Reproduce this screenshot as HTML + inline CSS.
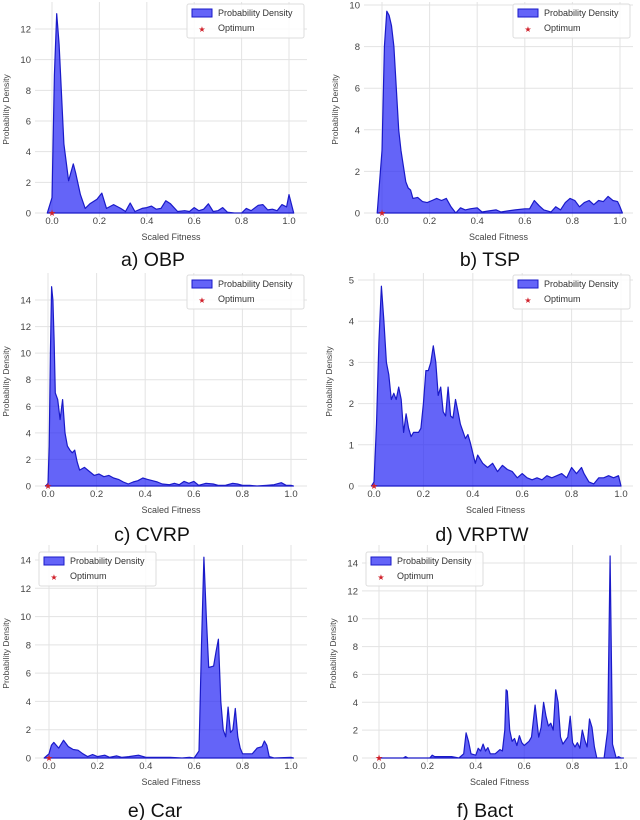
<!DOCTYPE html>
<html><head><meta charset="utf-8">
<style>
html,body{margin:0;padding:0;background:#fff;}
svg{display:block;font-family:"Liberation Sans",sans-serif;}
</style></head>
<body>
<svg id="fig" width="640" height="820" viewBox="0 0 640 820" xmlns="http://www.w3.org/2000/svg"></svg>
<script>
const xTickLabels = ["0.0","0.2","0.4","0.6","0.8","1.0"];
const xTickValues = [0,0.2,0.4,0.6,0.8,1.0];

const obpX = [-0.02,0,0.01,0.02,0.03,0.05,0.07,0.09,0.1,0.12,0.14,0.16,0.19,0.21,0.23,0.26,0.29,0.31,0.33,0.35,0.38,0.4,0.42,0.44,0.46,0.48,0.5,0.53,0.56,0.58,0.6,0.62,0.64,0.66,0.68,0.7,0.72,0.74,0.77,0.8,0.82,0.84,0.87,0.89,0.91,0.93,0.95,0.97,0.99,1.0,1.02];
const obpY = [0,1,9,13,11,4.5,2.1,3.2,2.6,1.2,0.3,0.6,0.9,1.3,0.3,0.55,0.3,0.1,0.65,0.1,0.3,0.35,0.45,0.25,0.3,0.8,0.6,0.1,0.15,0.1,0.35,0.15,0.25,0.6,0.1,0.15,0.35,0.05,0,0,0.3,0.15,0.5,0.55,0.2,0.25,0.15,0.55,0.4,1.2,0];

const tspX = [-0.02,0,0.01,0.02,0.03,0.04,0.05,0.06,0.07,0.08,0.1,0.11,0.12,0.13,0.15,0.17,0.19,0.21,0.23,0.25,0.27,0.29,0.31,0.33,0.35,0.37,0.4,0.42,0.45,0.48,0.5,0.53,0.56,0.6,0.62,0.64,0.66,0.68,0.71,0.73,0.75,0.77,0.79,0.81,0.83,0.85,0.87,0.89,0.91,0.93,0.95,0.97,0.99,1.0,1.01];
const tspY = [0,3,8,9.7,9.5,9,8,6,4,3,1.5,1.2,1.1,0.7,0.75,0.55,0.5,0.6,0.7,0.6,0.7,0.3,0,0.25,0.15,0.2,0.25,0.05,0.1,0.15,0.05,0.1,0.15,0.2,0.2,0.6,0.35,0.15,0.05,0.3,0.15,0.5,0.7,0.6,0.3,0.5,0.6,0.4,0.6,0.55,0.8,0.6,0.55,0.3,0];

const cvrpX = [-0.01,0,0.005,0.01,0.015,0.02,0.025,0.03,0.04,0.05,0.06,0.07,0.08,0.09,0.1,0.11,0.12,0.13,0.15,0.17,0.19,0.21,0.23,0.25,0.27,0.29,0.31,0.33,0.35,0.37,0.39,0.41,0.43,0.45,0.47,0.5,0.52,0.54,0.56,0.58,0.6,0.62,0.65,0.68,0.7,0.73,0.76,0.78,0.8,0.83,0.86,0.9,0.93,0.96,0.98,1.0,1.01];
const cvrpY = [0,0.2,3,10,15,14,11,7,6.5,5,6.5,4,3,2.7,2.5,2.7,1.8,1.2,1.4,1.1,0.8,0.9,0.7,0.8,0.6,0.5,0.3,0.15,0.3,0.4,0.6,0.5,0.4,0.3,0.15,0.1,0.2,0.1,0.35,0.2,0.35,0.05,0.2,0.15,0.05,0.05,0.2,0.15,0.05,0.05,0,0.05,0.1,0.25,0.05,0.05,0];

const vrptwX = [-0.01,0,0.01,0.02,0.03,0.04,0.05,0.06,0.07,0.08,0.09,0.1,0.11,0.12,0.13,0.14,0.15,0.16,0.18,0.19,0.2,0.21,0.22,0.23,0.24,0.25,0.26,0.27,0.28,0.29,0.3,0.31,0.32,0.33,0.34,0.35,0.37,0.38,0.39,0.4,0.41,0.42,0.44,0.46,0.48,0.5,0.52,0.54,0.56,0.58,0.6,0.62,0.64,0.66,0.68,0.7,0.72,0.74,0.76,0.78,0.8,0.82,0.84,0.85,0.87,0.89,0.91,0.93,0.95,0.97,0.99,1.0];
const vrptwY = [0,0.1,1.5,3.5,4.85,4,3,2.7,2.1,2.25,2.1,2.4,2.1,1.3,1.75,1.4,1.2,1.3,1.3,1.4,2.0,2.8,2.8,3.0,3.4,3.0,2.2,2.4,1.8,1.7,2.4,1.7,1.65,2.1,1.8,1.5,1.15,1.25,1.05,0.8,0.55,0.75,0.55,0.45,0.55,0.35,0.5,0.4,0.35,0.2,0.3,0.2,0.15,0.2,0.15,0.25,0.2,0.25,0.3,0.2,0.45,0.3,0.45,0.3,0.1,0.05,0.2,0.2,0.25,0.2,0.25,0];

const carX = [-0.02,0,0.01,0.02,0.04,0.06,0.08,0.1,0.12,0.14,0.16,0.18,0.2,0.23,0.25,0.28,0.3,0.33,0.37,0.4,0.45,0.5,0.55,0.58,0.6,0.62,0.63,0.64,0.65,0.66,0.68,0.69,0.7,0.71,0.72,0.73,0.74,0.75,0.76,0.77,0.78,0.79,0.8,0.82,0.84,0.86,0.88,0.89,0.9,0.91,0.93,1.0,1.01];
const carY = [0,0.3,0.9,1.1,0.7,1.25,0.8,0.6,0.55,0.3,0.1,0.25,0.1,0.2,0.05,0.15,0.05,0.1,0.2,0.05,0.05,0.05,0,0.05,0,0.5,8,14.2,10,6.4,6.5,7.5,8.4,4,2,1.5,3.6,1.8,2,3.5,1.5,0.7,0.3,0.3,0.3,0.7,0.8,1.2,0.9,0.1,0,0.05,0];

const bactX = [0,0.1,0.11,0.12,0.21,0.22,0.23,0.25,0.3,0.33,0.35,0.36,0.37,0.38,0.4,0.41,0.42,0.43,0.44,0.45,0.46,0.47,0.48,0.5,0.51,0.52,0.525,0.53,0.54,0.55,0.56,0.57,0.58,0.59,0.6,0.62,0.63,0.645,0.66,0.67,0.68,0.69,0.7,0.71,0.72,0.73,0.74,0.75,0.76,0.78,0.79,0.8,0.81,0.82,0.83,0.84,0.85,0.86,0.87,0.88,0.89,0.9,0.93,0.945,0.955,0.965,0.98,0.99,1.0,1.01];
const bactY = [0,0,0.1,0,0,0.2,0.1,0.1,0.1,0,0.3,1.8,1.2,0.3,0.2,0.7,0.5,1.0,0.5,0.75,0.3,0.3,0.3,0.6,0.5,2,4.9,4.8,2,1.2,1.4,0.9,1.6,1.1,0.9,1.2,1.5,3.8,1.5,2.2,4,3,2.3,2.5,2,4.9,4,1.5,1,1.5,3,1.1,0.8,1.1,0.7,2,1.3,0.8,2.8,2.2,0.8,0,0,2,14.5,1,0,0.1,0,0];

const panels = [
 {id:"obp",cap:"a) OBP",xs:obpX,ys:obpY,xa:52,xb:289,y0:213,yt:12,ytPx:29,yTicks:[0,2,4,6,8,10,12],L:35,R:307,T:2,leg:"tr",capX:153,capY:266},
 {id:"tsp",cap:"b) TSP",xs:tspX,ys:tspY,xa:382,xb:620,y0:213,yt:10,ytPx:5,yTicks:[0,2,4,6,8,10],L:364,R:633,T:2,leg:"tr",capX:490,capY:266},
 {id:"cvrp",cap:"c) CVRP",xs:cvrpX,ys:cvrpY,xa:48,xb:291,y0:486,yt:14,ytPx:300,yTicks:[0,2,4,6,8,10,12,14],L:35,R:307,T:273,leg:"tr",capX:152,capY:541},
 {id:"vrptw",cap:"d) VRPTW",xs:vrptwX,ys:vrptwY,xa:374,xb:621,y0:486,yt:5,ytPx:280,yTicks:[0,1,2,3,4,5],L:358,R:633,T:273,leg:"tr",capX:482,capY:541},
 {id:"car",cap:"e) Car",xs:carX,ys:carY,xa:49,xb:291,y0:758,yt:14,ytPx:560,yTicks:[0,2,4,6,8,10,12,14],L:35,R:307,T:545,leg:"tl",capX:155,capY:817},
 {id:"bact",cap:"f) Bact",xs:bactX,ys:bactY,xa:379,xb:621,y0:758,yt:14,ytPx:563,yTicks:[0,2,4,6,8,10,12,14],L:362,R:637,T:545,leg:"tl",capX:485,capY:817}
];

const NS="http://www.w3.org/2000/svg";
const svg=document.getElementById('fig');
function mk(tag,attrs,parent){const e=document.createElementNS(NS,tag);for(const k in attrs)e.setAttribute(k,attrs[k]);(parent||svg).appendChild(e);return e;}

panels.forEach(p=>{
  const g=mk('g',{});
  
  
  const sx=v=>p.xa+(p.xb-p.xa)*v;
  const sy=v=>p.y0-(p.y0-p.ytPx)/p.yt*v;
  const B=p.y0+4;
  xTickValues.forEach((v,i)=>{
    const l=mk('line',{x1:sx(v),x2:sx(v),y1:p.T,y2:B,stroke:"#e3e3e3","stroke-width":1},g);
    
    
    const t=mk('text',{x:sx(v),y:p.y0+11,"font-size":9.5,fill:"#444","text-anchor":"middle"},g);
    t.textContent=xTickLabels[i];
    
    
  });
  p.yTicks.forEach(v=>{
    const l=mk('line',{x1:p.L,x2:p.R,y1:sy(v),y2:sy(v),stroke:"#e3e3e3","stroke-width":1},g);
    
    
    const t=mk('text',{x:p.L-4,y:sy(v)+3.5,"font-size":9.5,fill:"#444","text-anchor":"end"},g);
    t.textContent=String(v);
    
    
  });
  let d="M"+sx(p.xs[0])+","+sy(0);
  p.xs.forEach((x,i)=>{d+=" L"+sx(x).toFixed(1)+","+sy(p.ys[i]).toFixed(1);});
  d+=" L"+sx(p.xs[p.xs.length-1])+","+sy(0)+" Z";
  const a=mk('path',{d:d,fill:"rgba(40,40,245,0.72)",stroke:"#1a1ac8","stroke-width":1.2,"stroke-linejoin":"round"},g);
  
  
  const s=mk('text',{x:sx(0),y:sy(0)+3,"font-size":9,fill:"#d0202a","text-anchor":"middle"},g);
  s.textContent="★";
  
  
  const xl=mk('text',{x:(p.L+p.R)/2,y:p.y0+27,"font-size":9,fill:"#444","text-anchor":"middle"},g);
  xl.textContent="Scaled Fitness";
  
  
  const yc=(p.T+B)/2, yx=p.L-26;
  const yl=mk('text',{x:yx,y:yc,"font-size":8.5,fill:"#444","text-anchor":"middle",transform:"rotate(-90 "+yx+" "+yc+")"},g);
  yl.textContent="Probability Density";
  
  
  const lw=117, lh=34;
  const lx = p.leg==="tr" ? p.R-lw-3 : p.L+4;
  const ly = p.leg==="tr" ? p.T+2 : p.T+7;
  const lg=mk('g',{},g);
  
  
  mk('rect',{x:lx,y:ly,width:lw,height:lh,rx:2,fill:"#fff","fill-opacity":0.85,stroke:"#ddd"},lg);
  mk('rect',{x:lx+5,y:ly+5,width:20,height:8,fill:"rgba(40,40,245,0.72)",stroke:"#1a1ac8"},lg);
  const t1=mk('text',{x:lx+31,y:ly+12,"font-size":9,fill:"#333"},lg);
  t1.textContent="Probability Density";
  
  
  const st=mk('text',{x:lx+15,y:ly+28,"font-size":8,fill:"#d0202a","text-anchor":"middle"},lg);
  st.textContent="★";
  const t2=mk('text',{x:lx+31,y:ly+27,"font-size":9,fill:"#333"},lg);
  t2.textContent="Optimum";
  
  
  const c=mk('text',{x:p.capX,y:p.capY,"font-size":19.5,fill:"#111","text-anchor":"middle"},g);
  c.textContent=p.cap;
  
  
});
</script>
</body></html>
